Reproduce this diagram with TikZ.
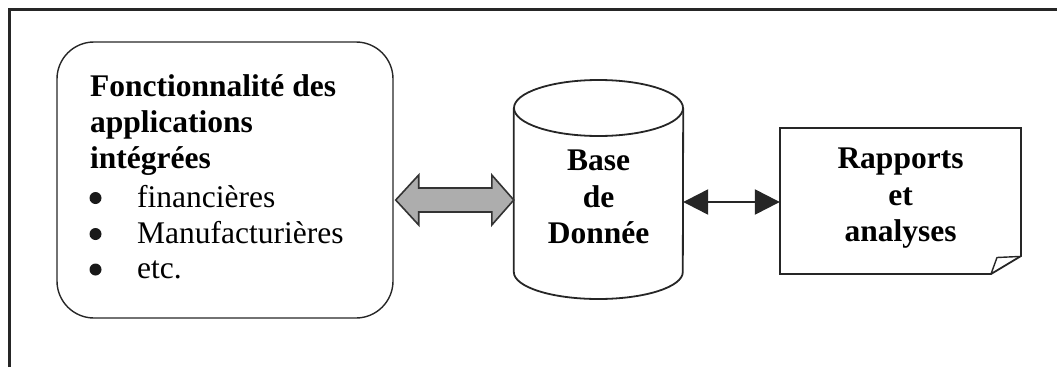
\documentclass[tikz,border=0pt]{standalone}
\usepackage{fontspec}
\setmainfont{Liberation Serif}
\usetikzlibrary{arrows.meta,calc}
\begin{document}
\begin{tikzpicture}[x=1pt,y=1pt,
  txt/.style={inner sep=0pt,anchor=base west,font=\fontsize{31.5}{36}\selectfont},
  btxt/.style={txt,font=\fontsize{31.5}{36}\selectfont\bfseries},
  ctxt/.style={inner sep=0pt,anchor=base,font=\fontsize{31.5}{36}\selectfont\bfseries},
  bulletdot/.style={circle,fill=black!90,inner sep=0pt,minimum size=12pt},
  outline/.style={draw=black!85,line width=1.8pt},
  grayarrow/.style={draw=black!80,line width=1.6pt,fill=black!32,line join=miter},
  blackarrow/.style={draw=black!85,line width=2.4pt,{Triangle[length=25pt,width=25pt]}-{Triangle[length=25pt,width=25pt]}},
]
\useasboundingbox (0,0) rectangle (1057,-367);
% frame (cropped: top and left edges only)
\draw[black!85,line width=3pt] (9.3,-367) -- (9.3,-9.5) -- (1057,-9.5);

% application box
\node[draw=black!85,line width=1.4pt,rounded corners=37pt,minimum width=336pt,minimum height=276pt,inner sep=0pt] (app) at (225,-180) {};
\node[btxt] (l1) at (90,-96) {Fonctionnalité des};
\node[btxt] (l2) at (90,-132) {applications};
\node[btxt] (l3) at (90,-168) {intégrées};
\node[bulletdot] (b1) at (95.5,-198) {};
\node[bulletdot] (b2) at (95.5,-234) {};
\node[bulletdot] (b3) at (95.5,-269.5) {};
\node[txt] (i1) at (137,-207) {financières};
\node[txt] (i2) at (137,-243) {Manufacturières};
\node[txt] (i3) at (137,-278) {etc.};

% database cylinder
\node[minimum width=169pt,minimum height=219pt,inner sep=0pt] (db) at (598.5,-189.5) {};
\draw[outline,fill=white] (db.west |- 0,-108) -- (db.west |- 0,-272) arc (180:360:84.5pt and 27pt) -- (db.east |- 0,-108);
\draw[outline] (598.5,-108) ellipse (84.5pt and 28pt);
\node[ctxt] (d1) at (598.5,-170) {Base};
\node[ctxt] (d2) at (598.5,-207) {de};
\node[ctxt] (d3) at (598.5,-243) {Donnée};

% report document
\coordinate (docA) at (780,-128);
\coordinate (docB) at (1021,-128);
\coordinate (docC) at (1021,-256);
\coordinate (docD) at (991,-274);
\coordinate (docE) at (780,-274);
\draw[outline] (docA) -- (docB) -- (docC) -- (docD) -- (docE) -- cycle;
\draw[draw=black!85,line width=1.4pt,line join=round] (docD) -- (997,-257.5) -- (1019,-256.5);
\node[inner sep=0pt,minimum width=241pt,minimum height=146pt] (doc) at (900.5,-201) {};
\node[ctxt] (r1) at (900.5,-168) {Rapports};
\node[ctxt] (r2) at (900.5,-205) {et};
\node[ctxt] (r3) at (900.5,-241) {analyses};

% gray double arrow between app and db
\coordinate (gL) at ($(app.east)+(2,-20)$);
\coordinate (gR) at ($(db.west)+(0,-10.5)$);
\draw[grayarrow] (gL) -- ++(23,25) -- ++(0,-13) -- ($(gR)+(-22,12)$) -- ++(0,13) -- (gR) -- ++(-22,-25) -- ++(0,13) -- ($(gL)+(23,-12)$) -- ++(0,-13) -- cycle;

% black double arrow between db and doc
\draw[blackarrow] (db.east |- 0,-202) -- (doc.west |- 0,-202);
\end{tikzpicture}
\end{document}
